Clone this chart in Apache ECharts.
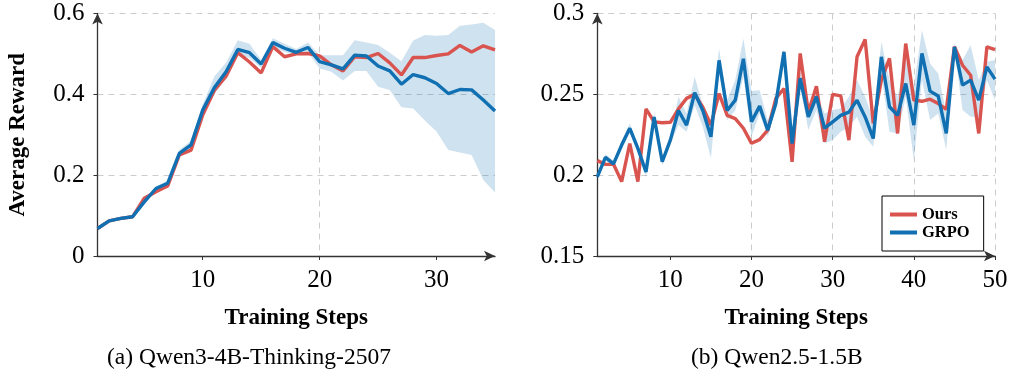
<!DOCTYPE html>
<html>
<head>
<meta charset="utf-8">
<script src="https://cdn.jsdelivr.net/npm/echarts@6/dist/echarts.min.js"></script>
<style>
  html, body { margin: 0; padding: 0; background: #fff; }
  #chart { width: 1011px; height: 377px; }
</style>
</head>
<body>
<div id="chart"></div>
<script>
// (a) Qwen3-4B-Thinking-2507, steps 1..35
const oursA = [0.068, 0.087, 0.093, 0.097, 0.143, 0.159, 0.173, 0.250, 0.262, 0.349, 0.410, 0.445, 0.503, 0.480, 0.453, 0.518, 0.493, 0.500, 0.501, 0.495, 0.473, 0.458, 0.493, 0.491, 0.501, 0.478, 0.448, 0.491, 0.491, 0.496, 0.500, 0.521, 0.505, 0.520, 0.510];
const grpoA = [0.068, 0.087, 0.093, 0.097, 0.134, 0.167, 0.180, 0.254, 0.275, 0.361, 0.417, 0.456, 0.511, 0.503, 0.475, 0.528, 0.514, 0.504, 0.516, 0.481, 0.473, 0.463, 0.497, 0.495, 0.470, 0.458, 0.425, 0.449, 0.441, 0.427, 0.402, 0.412, 0.411, 0.386, 0.359];
const grpoHiA = [0.072, 0.090, 0.096, 0.100, 0.140, 0.172, 0.186, 0.262, 0.285, 0.375, 0.445, 0.478, 0.534, 0.525, 0.485, 0.539, 0.525, 0.512, 0.528, 0.497, 0.497, 0.497, 0.534, 0.528, 0.522, 0.503, 0.482, 0.533, 0.547, 0.545, 0.547, 0.570, 0.573, 0.577, 0.559];
const grpoLoA = [0.065, 0.084, 0.090, 0.094, 0.128, 0.160, 0.174, 0.246, 0.265, 0.348, 0.400, 0.440, 0.497, 0.490, 0.465, 0.518, 0.505, 0.498, 0.505, 0.464, 0.456, 0.434, 0.458, 0.458, 0.419, 0.411, 0.368, 0.365, 0.335, 0.308, 0.262, 0.256, 0.250, 0.188, 0.157];

// (b) Qwen2.5-1.5B, steps 1..50
const oursB = [0.209, 0.2067, 0.2067, 0.196, 0.2196, 0.196, 0.241, 0.233, 0.2324, 0.2327, 0.241, 0.2475, 0.250, 0.242, 0.231, 0.2505, 0.237, 0.235, 0.229, 0.2197, 0.222, 0.2278, 0.2475, 0.2536, 0.2083, 0.2753, 0.239, 0.255, 0.2207, 0.250, 0.249, 0.2217, 0.2732, 0.284, 0.232, 0.2588, 0.2722, 0.2258, 0.2814, 0.2464, 0.2457, 0.247, 0.2443, 0.2407, 0.2794, 0.268, 0.2618, 0.2258, 0.2794, 0.2777];
const grpoB = [0.199, 0.211, 0.207, 0.2186, 0.229, 0.2166, 0.202, 0.236, 0.2083, 0.2217, 0.240, 0.231, 0.251, 0.240, 0.2237, 0.271, 0.240, 0.2464, 0.272, 0.233, 0.2427, 0.2278, 0.2444, 0.2763, 0.2196, 0.260, 0.236, 0.2485, 0.229, 0.233, 0.237, 0.239, 0.2464, 0.236, 0.2227, 0.2732, 0.2423, 0.237, 0.2567, 0.231, 0.2753, 0.252, 0.249, 0.2258, 0.2794, 0.2557, 0.2588, 0.2464, 0.267, 0.2594];
const grpoHiB = [0.201, 0.213, 0.209, 0.221, 0.232, 0.219, 0.205, 0.239, 0.211, 0.224, 0.2485, 0.2382, 0.2608, 0.2433, 0.230, 0.2784, 0.2464, 0.2588, 0.2845, 0.252, 0.2526, 0.234, 0.248, 0.2784, 0.224, 0.265, 0.2382, 0.2516, 0.2382, 0.2403, 0.2413, 0.2485, 0.2588, 0.2485, 0.2341, 0.2825, 0.2588, 0.2485, 0.2712, 0.2547, 0.2897, 0.2691, 0.2629, 0.2382, 0.2815, 0.2712, 0.2804, 0.2588, 0.2701, 0.2712];
const grpoLoB = [0.197, 0.209, 0.205, 0.216, 0.226, 0.214, 0.199, 0.233, 0.206, 0.219, 0.231, 0.2269, 0.2433, 0.230, 0.2104, 0.2629, 0.2341, 0.240, 0.2608, 0.2238, 0.2382, 0.2238, 0.241, 0.2712, 0.215, 0.2547, 0.2279, 0.2403, 0.2197, 0.2217, 0.2269, 0.230, 0.2361, 0.2238, 0.2176, 0.2629, 0.2269, 0.2258, 0.2485, 0.2093, 0.2588, 0.2341, 0.2382, 0.2155, 0.2773, 0.2403, 0.2361, 0.2361, 0.2588, 0.2464];

const xTicks = [10, 20, 30, 40, 50];
const captions = ['(a) Qwen3-4B-Thinking-2507', '(b) Qwen2.5-1.5B'];

const RED = '#d9534f';
const BLUE = '#1170b2';
const BAND = 'rgba(17,112,178,0.2)';
const FONT = 'Liberation Serif';

const pts = arr => arr.map((v, i) => [i + 1, v]);

function xAxisFor(idx, max, split) {
  return {
    type: 'value', gridIndex: idx, min: 1, max: max, splitNumber: split,
    name: 'Training Steps', nameLocation: 'middle', nameGap: 51,
    nameTextStyle: { fontFamily: FONT, fontWeight: 'bold', fontSize: 23, color: '#000' },
    axisLine: { lineStyle: { color: '#333', width: 1.3 }, symbol: ['none', 'arrow'], symbolSize: [8, 11] },
    axisTick: { length: 4, lineStyle: { color: '#333' }, customValues: xTicks.filter(t => t <= max) },
    axisLabel: { customValues: xTicks.filter(t => t <= max), margin: 12, fontFamily: FONT, fontSize: 25, color: '#000' },
    splitLine: { show: true, showMinLine: false, showMaxLine: max === 50, lineStyle: { color: '#ccc', type: [6, 5] } }
  };
}

function yAxisFor(idx, min, max, step, name) {
  return {
    type: 'value', gridIndex: idx, min: min, max: max, interval: step,
    name: name, nameLocation: 'middle', nameGap: 68, nameRotate: 90,
    nameTextStyle: { fontFamily: FONT, fontWeight: 'bold', fontSize: 23, color: '#000' },
    axisLine: { show: true, lineStyle: { color: '#333', width: 1.3 }, symbol: ['none', 'arrow'], symbolSize: [8, 11] },
    axisTick: { show: true, length: 4, lineStyle: { color: '#333' } },
    axisLabel: { margin: 13, fontFamily: FONT, fontSize: 25, color: '#000' },
    splitLine: { show: true, showMinLine: false, lineStyle: { color: '#ccc', type: [6, 5] } }
  };
}

function seriesFor(idx, ours, grpo, hi, lo) {
  return [
    {
      type: 'custom', xAxisIndex: idx, yAxisIndex: idx, name: 'band' + idx,
      data: [[1, lo[0]]], silent: true, z: 1,
      renderItem: (params, api) => {
        const top = hi.map((v, i) => api.coord([i + 1, v]));
        const bottom = lo.map((v, i) => api.coord([i + 1, v])).reverse();
        return { type: 'polygon', shape: { points: top.concat(bottom) }, style: { fill: BAND } };
      }
    },
    { type: 'line', xAxisIndex: idx, yAxisIndex: idx, name: 'Ours', data: pts(ours), z: 3,
      symbol: 'none', lineStyle: { color: RED, width: 3.4 }, itemStyle: { color: RED } },
    { type: 'line', xAxisIndex: idx, yAxisIndex: idx, name: 'GRPO', data: pts(grpo), z: 4,
      symbol: 'none', lineStyle: { color: BLUE, width: 3.4 }, itemStyle: { color: BLUE } }
  ];
}

const chart = echarts.init(document.getElementById('chart'));
chart.setOption({
  animation: false,
  backgroundColor: '#fff',
  title: [
    { text: captions[0], left: 102, top: 341, textStyle: { fontFamily: FONT, fontWeight: 'normal', fontSize: 23.5, color: '#000' } },
    { text: captions[1], left: 686, top: 341, textStyle: { fontFamily: FONT, fontWeight: 'normal', fontSize: 23.5, color: '#000' } }
  ],
  legend: {
    data: ['Ours', 'GRPO'], orient: 'vertical', left: 882, top: 196,
    padding: [10, 14, 10, 8], itemGap: 1, itemWidth: 27, itemHeight: 4, icon: 'rect',
    borderColor: '#000', borderWidth: 1, backgroundColor: '#fff',
    textStyle: { fontFamily: FONT, fontWeight: 'bold', fontSize: 16.5, color: '#000', lineHeight: 17 }
  },
  grid: [
    { left: 97.5, top: 13.5, width: 397.5, height: 242.5 },
    { left: 597.3, top: 13.5, width: 397.7, height: 242.5 }
  ],
  xAxis: [xAxisFor(0, 35, 3), xAxisFor(1, 50, 5)],
  yAxis: [yAxisFor(0, 0, 0.6, 0.2, 'Average Reward'), yAxisFor(1, 0.15, 0.3, 0.05, '')],
  series: seriesFor(0, oursA, grpoA, grpoHiA, grpoLoA).concat(seriesFor(1, oursB, grpoB, grpoHiB, grpoLoB))
});
</script>
</body>
</html>
